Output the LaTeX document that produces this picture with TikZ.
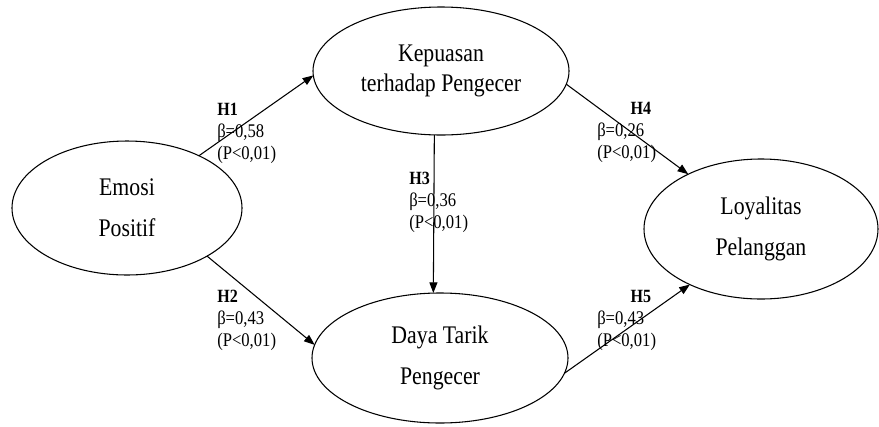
\documentclass[tikz,border=0pt]{standalone}
\usepackage{fontspec}
\setmainfont{Liberation Serif}[FakeStretch=0.86]
\usetikzlibrary{arrows.meta,shapes.geometric,positioning}

\tikzset{
  konstruk/.style={draw, ellipse, line width=0.8pt, inner sep=0pt, outer sep=0pt,
    align=center, font=\fontsize{19}{23}\selectfont},
  jalur/.style={-{Triangle[length=8pt,width=6pt]}, line width=0.8pt},
  hipotesis/.style={align=left, anchor=west, inner sep=0pt,
    font=\fontsize{14.5}{16.5}\selectfont},
}
\newcommand{\hlabel}[1]{{\fontsize{14}{16.5}\selectfont\bfseries #1}}

\begin{document}
\begin{tikzpicture}[x=0.75pt,y=-0.75pt]
\useasboundingbox (0,0) rectangle (879,426);
%konstruk
\node[konstruk, minimum width=172.5pt, minimum height=100.5pt] (emosi) at (127,208) {Emosi\\[8pt]Positif};
\node[konstruk, minimum width=192pt, minimum height=96pt] (kepuasan) at (441,71) {Kepuasan\\terhadap Pengecer};
\node[konstruk, minimum width=192pt, minimum height=97.5pt] (daya) at (440,358) {Daya Tarik\\[8pt]Pengecer};
\node[konstruk, minimum width=175.5pt, minimum height=105pt] (loyal) at (761,229) {Loyalitas\\[8pt]Pelanggan};

%jalur
\foreach \u/\v in {emosi.36/kepuasan.182, emosi.329/daya.174,
    kepuasan.354/loyal.143, daya.353/loyal.218}
  \draw[jalur] (\u) -- (\v);
\draw[jalur] ([xshift=-5pt]kepuasan.south) -- ([xshift=-5pt]daya.north);

%hipotesis
\node[hipotesis] (h1) at (217,133) {\hlabel{H1}\\β=0,58\\(P<0,01)};
\node[hipotesis] (h2) at (217,320) {\hlabel{H2}\\β=0,43\\(P<0,01)};
\node[hipotesis] (h3) at (409,202) {\hlabel{H3}\\β=0,36\\(P<0,01)};
\node[hipotesis] (h4) at (597,132) {\hspace*{25pt}\hlabel{H4}\\β=0,26\\(P<0,01)};
\node[hipotesis] (h5) at (597,320) {\hspace*{25pt}\hlabel{H5}\\β=0,43\\(P<0,01)};
\end{tikzpicture}
\end{document}
